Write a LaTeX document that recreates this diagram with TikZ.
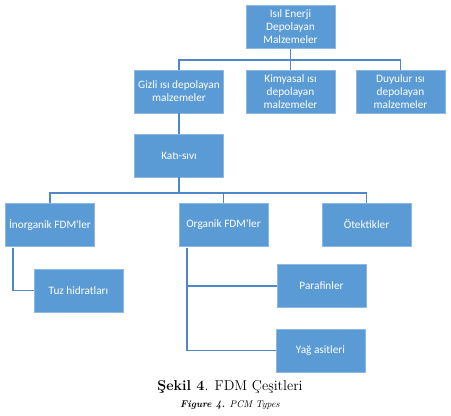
\documentclass[tikz,border=0pt]{standalone}
\usepackage{fontspec}
\usepackage{xcolor}
\newfontfamily\kutufont{Carlito}
\definecolor{kutumavi}{HTML}{5B9BD5}
\definecolor{kenarmavi}{HTML}{8DB8E4}
\definecolor{hatmavi}{HTML}{4F88C6}

\begin{document}
\begin{tikzpicture}[x=1pt,y=-1pt,
  kutu/.style={draw=kenarmavi, line width=0.8pt, fill=kutumavi, text=white,
    minimum width=89pt, minimum height=43pt, inner sep=1pt, align=center,
    font=\kutufont\fontsize{11.3}{13}\selectfont},
  hat/.style={draw=hatmavi, line width=1.3pt}]
  % fix the page to the size of the reference
  \useasboundingbox (0,0) rectangle (451,416);

  % top level
  \node[kutu] (isil) at (290.5,27) {Isıl Enerji\\Depolayan\\Malzemeler};

  % second level
  \node[kutu] (gizli) at (179,91.5) {Gizli ısı depolayan\\malzemeler};
  \node[kutu] (kimya) at (290.5,91.5) {Kimyasal ısı\\depolayan\\malzemeler};
  \node[kutu] (duyu) at (400.5,91.5) {Duyulur ısı\\depolayan\\malzemeler};

  % solid-liquid
  \node[kutu] (kati) at (179,155.5) {Katı-sıvı};

  % third level
  \node[kutu] (inorg) at (50,225) {İnorganik FDM'ler};
  \node[kutu] (org) at (223.5,225) {Organik FDM'ler};
  \node[kutu] (otek) at (366.5,224.5) {Ötektikler};

  % leaves
  \node[kutu] (tuz) at (78.5,290.5) {Tuz hidratları};
  \node[kutu] (para) at (321.5,286) {Parafinler};
  \node[kutu] (yag) at (320.5,350.5) {Yağ asitleri};

  % connectors
  \coordinate (bus1) at (290.5,60);
  \coordinate (bus2) at (179,193);
  \draw[hat] (isil.south) -- (kimya.north);
  \draw[hat] (bus1) -| (gizli.north);
  \draw[hat] (bus1) -| (duyu.north);
  \draw[hat] (gizli.south) -- (kati.north);
  \draw[hat] (kati.south) -- (bus2);
  \draw[hat] (bus2) -| (inorg.north);
  \draw[hat] (bus2) -| (org.north);
  \draw[hat] (bus2) -| (otek.north);
  \coordinate (inorgdip) at (13,248);
  \draw[hat] (inorgdip) |- (tuz.west);
  \coordinate (orgdip) at (187,248);
  \draw[hat] (orgdip) |- (para.west);
  \draw[hat] (orgdip) |- (yag.west);

  % caption
  \node[font=\fontsize{14.3}{16}\selectfont] (sekil) at (230,387)
    {\textbf{Şekil 4}. FDM Çeşitleri};
  \node[font=\fontsize{9.8}{11}\selectfont] (figure) at (230,405)
    {\textit{\textbf{Figure 4.} PCM Types}};
\end{tikzpicture}
\end{document}
